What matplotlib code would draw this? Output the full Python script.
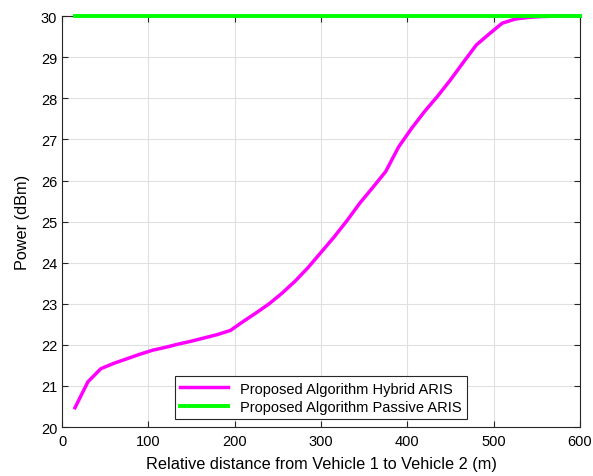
import matplotlib.pyplot as plt

plt.rcParams['font.family'] = ['Liberation Sans', 'DejaVu Sans']

# distance (m) and transmit power (dBm)
distancia = [15, 30, 45, 60, 75, 90, 105, 120, 135, 150, 165, 180, 195, 210, 225,
             240, 255, 270, 285, 300, 315, 330, 345, 360, 375, 390, 405, 420, 435,
             450, 465, 480, 495, 510, 525, 540, 555, 570, 585, 600]
pot_hibrido = [20.47, 21.10, 21.42, 21.55, 21.66, 21.77, 21.87, 21.94, 22.02, 22.09,
               22.17, 22.25, 22.35, 22.57, 22.78, 23.00, 23.26, 23.55, 23.88, 24.25,
               24.62, 25.02, 25.45, 25.83, 26.22, 26.82, 27.27, 27.68, 28.05, 28.45,
               28.88, 29.30, 29.57, 29.83, 29.93, 29.97, 29.99, 30.0, 30.0, 30.0]
pot_passivo = [30.0] * len(distancia)

fig = plt.figure(figsize=(5.93, 4.77), dpi=100)
ax = fig.add_axes([0.1046, 0.1027, 0.8734, 0.8613])

ax.plot(distancia, pot_hibrido, color='#ff00ff', lw=2.5, clip_on=False, zorder=3,
        label='Proposed Algorithm Hybrid ARIS')
ax.plot(distancia, pot_passivo, color='#00ff00', lw=2.8, clip_on=False, zorder=4,
        label='Proposed Algorithm Passive ARIS')

ax.set_xlim(0, 600)
ax.set_ylim(20, 30)
ax.set_xticks(range(0, 601, 100))
ax.set_yticks(range(20, 31))
ax.grid(True, color='#e0e0e0', lw=0.8)
ax.set_axisbelow(True)
ax.tick_params(direction='in', top=True, right=True, labelsize=10.5, length=4, color='#262626')
ax.tick_params(axis='x', pad=5)
for s in ax.spines.values():
    s.set_color('#262626')
    s.set_linewidth(0.8)

ax.set_xlabel('Relative distance from Vehicle 1 to Vehicle 2 (m)', fontsize=11.7, labelpad=6)
ax.set_ylabel('Power (dBm)', fontsize=11.7, labelpad=8)

leg = ax.legend(loc='lower center', bbox_to_anchor=(0.5, 0.0195), borderaxespad=0,
                fontsize=10.5, fancybox=False, edgecolor='#262626', framealpha=1,
                handlelength=3.3, borderpad=0.35, labelspacing=0.3)
leg.set_zorder(5)
leg.get_frame().set_linewidth(0.8)

fig.savefig('out.png', dpi=100)
